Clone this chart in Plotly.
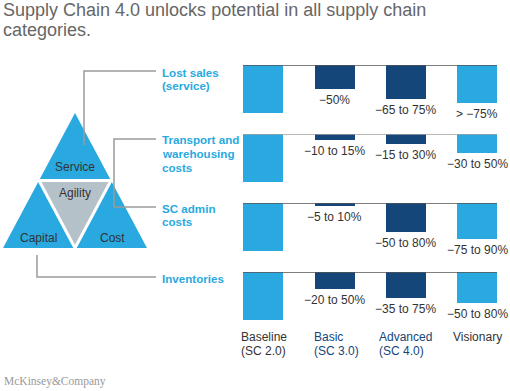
import plotly.graph_objects as go

W, H = 510, 391

title_lines = ["Supply Chain 4.0 unlocks potential in all supply chain", "categories."]
stages = ["Baseline<br>(SC 2.0)", "Basic<br>(SC 3.0)", "Advanced<br>(SC 4.0)", "Visionary"]
categories = ["Lost sales<br>(service)", "Transport and<br>warehousing<br>costs", "SC admin<br>costs", "Inventories"]

# bar heights as % of baseline
lost_sales = [100, 50, 70, 79]
transport = [100, 12, 20, 40]
sc_admin = [100, 7, 60, 75]
inventories = [100, 35, 54, 64]
rows_values = [lost_sales, transport, sc_admin, inventories]

lost_sales_lbl = ["", "\u221250%", "\u221265 to 75%", "> \u221275%"]
transport_lbl = ["", "\u221210 to 15%", "\u221215 to 30%", "\u221230 to 50%"]
sc_admin_lbl = ["", "\u22125 to 10%", "\u221250 to 80%", "\u221275 to 90%"]
inventories_lbl = ["", "\u221220 to 50%", "\u221235 to 75%", "\u221250 to 80%"]
rows_labels = [lost_sales_lbl, transport_lbl, sc_admin_lbl, inventories_lbl]

triangle_labels = ["Service", "Agility", "Capital", "Cost"]

LIGHT = "#29A9E0"
NAVY = "#14467A"
GREY_TRI = "#B5C1C9"
TXT = "#333333"
CONN = "#9a9a9a"
FONT = "Liberation Sans, Arial, Helvetica, sans-serif"

bar_colors = [LIGHT, NAVY, NAVY, LIGHT]
stage_colors = [TXT, NAVY, NAVY, TXT]


def px(x):
    return x / W


def py(y):
    return 1 - y / H


fig = go.Figure()
annotations = []
shapes = []
layout_axes = {}

row_tops = [65, 134, 203, 272]
base_h = 48
x_dom = [241.6 / W, 498.4 / W]
line_colors = ["#555555", "#a0a0a0", "#555555", "#555555"]

for r, (vals, lbls) in enumerate(zip(rows_values, rows_labels)):
    n = "" if r == 0 else str(r + 1)
    fig.add_trace(go.Bar(
        x=list(range(len(vals))), y=[-v for v in vals],
        marker=dict(color=bar_colors, line=dict(width=0)),
        width=0.561, xaxis="x" + n, yaxis="y" + n,
        showlegend=False, hoverinfo="skip",
    ))
    top = row_tops[r]
    layout_axes["xaxis" + n] = dict(domain=x_dom, range=[-0.3, 3.3], visible=False,
                                    anchor="y" + n, fixedrange=True)
    layout_axes["yaxis" + n] = dict(domain=[py(top + base_h), py(top)], range=[-100, 0],
                                    visible=False, anchor="x" + n, fixedrange=True)
    shapes.append(dict(type="line", xref="x" + n, yref="y" + n, x0=-0.28, x1=3.28, y0=0, y1=0,
                       line=dict(color=line_colors[r], width=1.5), layer="above"))
    for i, (v, t) in enumerate(zip(vals, lbls)):
        if t:
            annotations.append(dict(xref="x" + n, yref="y" + n, x=i, y=-v, text=t,
                                    showarrow=False, xanchor="center", yanchor="top", yshift=-2,
                                    font=dict(family=FONT, size=12, color=TXT)))


def multiline(text, x, y_first, spacing, size, color, bold=False, family=FONT, xanchor="left"):
    for k, line in enumerate(text.split("<br>")):
        t = "<b>" + line + "</b>" if bold else line
        annotations.append(dict(xref="paper", yref="paper", x=px(x), y=py(y_first + k * spacing),
                                text=t, showarrow=False, xanchor=xanchor, yanchor="middle",
                                font=dict(family=family, size=size, color=color)))


# title
for k, line in enumerate(title_lines):
    annotations.append(dict(xref="paper", yref="paper", x=px(1), y=py(10 + k * 20), text=line,
                            showarrow=False, xanchor="left", yanchor="middle",
                            font=dict(family=FONT, size=18, color="#666666")))

# category labels
cat_first_y = [72, 140, 208, 278]
for c, yy in zip(categories, cat_first_y):
    multiline(c, 160, yy, 13.5, 11.6, LIGHT, bold=True)

# stage labels
stage_x = [239, 312, 377, 451]
for s, xx, col in zip(stages, stage_x, stage_colors):
    multiline(s, xx, 337, 14, 12, col)

# triangle diagram
A, B, C = (75, 113), (3, 248), (147, 248)
mAB = ((A[0] + B[0]) / 2, (A[1] + B[1]) / 2)
mAC = ((A[0] + C[0]) / 2, (A[1] + C[1]) / 2)
mBC = ((B[0] + C[0]) / 2, (B[1] + C[1]) / 2)


def tri_path(p1, p2, p3):
    return "M {} {} L {} {} L {} {} Z".format(px(p1[0]), py(p1[1]), px(p2[0]), py(p2[1]),
                                              px(p3[0]), py(p3[1]))


for tri in [(A, mAB, mAC), (mAB, B, mBC), (mAC, mBC, C)]:
    shapes.append(dict(type="path", xref="paper", yref="paper", path=tri_path(*tri),
                       fillcolor=LIGHT, line=dict(width=0), layer="above"))
shapes.append(dict(type="path", xref="paper", yref="paper", path=tri_path(mAB, mAC, mBC),
                   fillcolor=GREY_TRI, line=dict(width=3, color="white"), layer="above"))

tri_label_pos = [(75, 167), (75, 193), (38, 238), (112, 238)]
for t, (xx, yy) in zip(triangle_labels, tri_label_pos):
    annotations.append(dict(xref="paper", yref="paper", x=px(xx), y=py(yy), text=t,
                            showarrow=False, xanchor="center", yanchor="middle",
                            font=dict(family=FONT, size=12, color=TXT)))


def poly(points):
    d = "M " + " L ".join("{} {}".format(px(a), py(b)) for a, b in points)
    shapes.append(dict(type="path", xref="paper", yref="paper", path=d,
                       line=dict(color=CONN, width=1.5), layer="above"))


poly([(84, 145), (84, 71), (156, 71)])
poly([(156, 139), (114, 139), (114, 207), (156, 207)])
poly([(37, 255), (37, 277), (156, 277)])

# footer
annotations.append(dict(xref="paper", yref="paper", x=px(2), y=py(381), text="McKinsey&Company",
                        showarrow=False, xanchor="left", yanchor="middle",
                        font=dict(family="Liberation Serif, Times New Roman, serif", size=11.5,
                                  color="#999999")))

fig.update_layout(
    width=W, height=H, margin=dict(l=0, r=0, t=0, b=0),
    paper_bgcolor="white", plot_bgcolor="rgba(0,0,0,0)",
    annotations=annotations, shapes=shapes, bargap=0,
    **layout_axes,
)

fig.write_html("out.html", config={"displayModeBar": False},
               post_script="document.body.style.margin='0';document.body.style.overflow='hidden';")
